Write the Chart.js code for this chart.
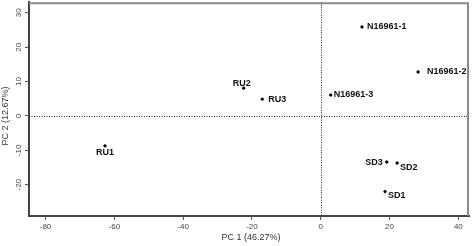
<!DOCTYPE html>
<html>
<head>
<meta charset="utf-8">
<script src="https://cdn.jsdelivr.net/npm/chart.js@4"></script>
<style>
  html, body { margin: 0; padding: 0; background: #fff; }
  #wrap { width: 472px; height: 246px; }
</style>
</head>
<body>
<div id="wrap"><canvas id="pca" width="472" height="246"></canvas></div>
<script>
// Sample scores on the first two principal components
const samples = ["N16961-1", "N16961-2", "N16961-3", "RU1", "RU2", "RU3", "SD1", "SD2", "SD3"];
const pc1 = [12.0, 28.3, 2.9, -62.7, -22.4, -17.0, 18.7, 22.2, 19.2];
const pc2 = [25.9, 12.8, 6.1, -8.7, 8.1, 4.9, -22.0, -13.7, -13.4];
const xTicks = [-80, -60, -40, -20, 0, 20, 40];
const yTicks = [-20, -10, 0, 10, 20, 30];
const xTitle = "PC 1 (46.27%)";
const yTitle = "PC 2 (12.67%)";

// where each label sits relative to its dot: [dx, dy, align]
const labelPlace = {
    "N16961-1": [5, 0, "left"],
    "N16961-2": [9, 0, "left"],
    "N16961-3": [3, 0, "left"],
    "RU1": [0, 7, "center"],
    "RU2": [-2, -5, "center"],
    "RU3": [6, 0, "left"],
    "SD1": [3, 4, "left"],
    "SD2": [3, 4, "left"],
    "SD3": [-4, 0, "right"]
};

const points = samples.map((s, i) => ({x: pc1[i], y: pc2[i], name: s}));

const decor = {
    id: "decor",
    beforeDatasetsDraw(chart) {
        const ctx = chart.ctx;
        const a = chart.chartArea;
        const x0 = chart.scales.x.getPixelForValue(0);
        const y0 = chart.scales.y.getPixelForValue(0);
        ctx.save();
        ctx.strokeStyle = "#222";
        ctx.lineWidth = 1;
        ctx.setLineDash([1, 1.5]);
        ctx.beginPath();
        ctx.moveTo(Math.round(x0) + 0.5, a.top);
        ctx.lineTo(Math.round(x0) + 0.5, a.bottom);
        ctx.moveTo(a.left, Math.round(y0) + 0.5);
        ctx.lineTo(a.right, Math.round(y0) + 0.5);
        ctx.stroke();
        ctx.setLineDash([]);
        // top and right frame
        ctx.strokeStyle = "#8a8a8a";
        ctx.lineWidth = 2;
        ctx.beginPath();
        ctx.moveTo(a.left, a.top + 1);
        ctx.lineTo(a.right - 1, a.top + 1);
        ctx.lineTo(a.right - 1, a.bottom);
        ctx.stroke();
        ctx.restore();
    },
    afterDraw(chart) {
        const ctx = chart.ctx;
        const a = chart.chartArea;
        ctx.save();
        // y tick labels, rotated like R
        ctx.fillStyle = "#444";
        ctx.font = "8px 'Liberation Sans', Arial, sans-serif";
        ctx.textAlign = "center";
        ctx.textBaseline = "middle";
        yTicks.forEach(v => {
            const py = chart.scales.y.getPixelForValue(v);
            ctx.save();
            ctx.translate(a.left - 10, py);
            ctx.rotate(-Math.PI / 2);
            ctx.fillText(String(v), 0, 0);
            ctx.restore();
        });
        // axis titles
        ctx.fillStyle = "#333";
        ctx.font = "9px 'Liberation Sans', Arial, sans-serif";
        ctx.fillText(xTitle, 251, 238);
        ctx.save();
        ctx.translate(6, 116);
        ctx.rotate(-Math.PI / 2);
        ctx.fillText(yTitle, 0, 0);
        ctx.restore();
        // point labels
        ctx.fillStyle = "#111";
        ctx.font = "bold 9px 'Liberation Sans', Arial, sans-serif";
        const meta = chart.getDatasetMeta(0);
        meta.data.forEach((el, i) => {
            const p = labelPlace[samples[i]];
            ctx.textAlign = p[2];
            ctx.fillText(samples[i], el.x + p[0], el.y + p[1]);
        });
        ctx.restore();
    }
};

new Chart(document.getElementById("pca"), {
    type: "scatter",
    data: {
        datasets: [{
            data: points,
            backgroundColor: "#000",
            borderColor: "#000",
            pointRadius: 1.2,
            pointHoverRadius: 1.2
        }]
    },
    options: {
        responsive: false,
        animation: false,
        maintainAspectRatio: false,
        devicePixelRatio: 1,
        layout: { padding: { top: 2, right: 3, left: 0, bottom: 0 } },
        plugins: { legend: { display: false }, tooltip: { enabled: false } },
        scales: {
            x: {
                type: "linear",
                min: -84.8,
                max: 43.1,
                afterBuildTicks: s => { s.ticks = xTicks.map(v => ({value: v})); },
                afterFit: s => { s.height = 30; },
                grid: { drawOnChartArea: false, drawTicks: true, tickLength: 4, color: "#555", lineWidth: 1 },
                border: { color: "#444", width: 2 },
                ticks: {
                    color: "#444",
                    padding: 2,
                    maxRotation: 0,
                    font: { family: "'Liberation Sans', Arial, sans-serif", size: 8 }
                }
            },
            y: {
                type: "linear",
                min: -29.1,
                max: 33.1,
                afterBuildTicks: s => { s.ticks = yTicks.map(v => ({value: v})); },
                afterFit: s => { s.width = 29; },
                grid: { drawOnChartArea: false, drawTicks: true, tickLength: 4, color: "#555", lineWidth: 1 },
                border: { color: "#444", width: 2 },
                ticks: { display: false }
            }
        }
    },
    plugins: [decor]
});
</script>
</body>
</html>
